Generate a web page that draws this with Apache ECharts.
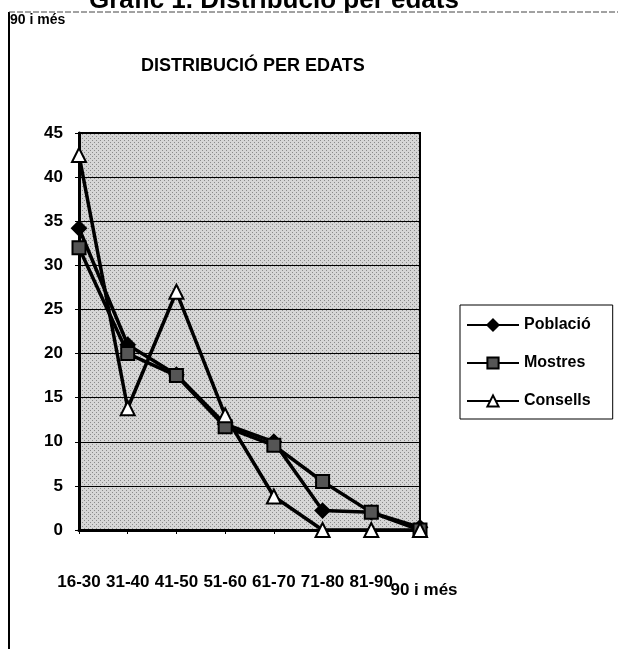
<!DOCTYPE html>
<html>
<head>
<meta charset="utf-8">
<script src="https://cdn.jsdelivr.net/npm/echarts@6/dist/echarts.min.js"></script>
<style>
html, body { margin: 0; padding: 0; background: #fff; }
#chart { width: 618px; height: 649px; }
</style>
</head>
<body>
<div id="chart"></div>
<script>
// dades llegides del gràfic
var edats = ['16-30', '31-40', '41-50', '51-60', '61-70', '71-80', '81-90', '90 i més'];
var poblacio = [34.2, 21, 17.6, 12, 10, 2.2, 2, 0.3];
var mostres = [32, 20, 17.5, 11.7, 9.6, 5.5, 2, 0];
var consells = [42.5, 13.8, 27, 13, 3.8, 0, 0, 0];
var yTicks = [0, 5, 10, 15, 20, 25, 30, 35, 40, 45];

var chart = echarts.init(document.getElementById('chart'));

var font = 'Liberation Sans, Arial, sans-serif';

// trama puntejada del fons
var trama = document.createElement('canvas');
trama.width = 4;
trama.height = 4;
var ctx = trama.getContext('2d');
ctx.fillStyle = '#d6d6d6';
ctx.fillRect(0, 0, 4, 4);
ctx.fillStyle = '#8a8a8a';
ctx.fillRect(0, 0, 1, 1);
ctx.fillRect(2, 2, 1, 1);

function serie(name, data, symbol, size, fill) {
	return {
		name: name,
		type: 'line',
		data: data,
		symbol: symbol,
		symbolSize: size,
		showAllSymbol: true,
		lineStyle: { color: '#000', width: 3.5 },
		itemStyle: { color: fill, borderColor: '#000', borderWidth: 2 },
		emphasis: { disabled: true },
		animation: false
	};
}

var option = {
	backgroundColor: '#fff',
	textStyle: { fontFamily: font },
	graphic: [
		{ type: 'text', left: 89, top: -12, style: { text: 'Gràfic 1. Distribució per edats', font: 'bold 26px ' + font, fill: '#000' } },
		{ type: 'line', shape: { x1: 9, y1: 12, x2: 9, y2: 649 }, style: { stroke: '#000', lineWidth: 2 } },
		{ type: 'line', shape: { x1: 9, y1: 12, x2: 618, y2: 12 }, style: { stroke: '#444', lineWidth: 1, lineDash: [6, 2] } },
		{ type: 'text', left: 10, top: 13, style: { text: '90 i més', font: 'bold 14px ' + font, fill: '#000' } }
	],
	title: {
		text: 'DISTRIBUCIÓ PER EDATS',
		left: 136,
		top: 52,
		textStyle: { fontSize: 18, fontWeight: 'bold', color: '#000', fontFamily: font }
	},
	legend: {
		orient: 'vertical',
		left: 460,
		top: 305,
		width: 154,
		padding: [12, 22, 10, 6],
		itemGap: 22,
		itemWidth: 52,
		itemHeight: 14,
		borderColor: '#000',
		borderWidth: 1,
		textStyle: { fontSize: 16, fontWeight: 'bold', color: '#000', fontFamily: font },
		data: ['Població', 'Mostres', 'Consells']
	},
	grid: {
		left: 79,
		right: 198,
		top: 133,
		bottom: 119,
		show: true,
		backgroundColor: { image: trama, repeat: 'repeat' },
		borderColor: '#000',
		borderWidth: 2
	},
	xAxis: {
		type: 'category',
		data: edats,
		boundaryGap: false,
		axisLine: { lineStyle: { color: '#000', width: 3 } },
		axisTick: { show: true, alignWithLabel: true, length: 4, lineStyle: { color: '#000' } },
		axisLabel: {
			interval: 0,
			margin: 44,
			color: '#000',
			fontSize: 17,
			fontWeight: 'bold',
			formatter: function (v, i) {
				return i === edats.length - 1 ? '{b|' + v + '}' : v;
			},
			rich: { b: { fontSize: 17, fontWeight: 'bold', padding: [8, 0, 0, 8], color: '#000' } }
		},
		splitLine: { show: false }
	},
	yAxis: {
		type: 'value',
		min: yTicks[0],
		max: yTicks[yTicks.length - 1],
		interval: 5,
		axisLine: { show: true, lineStyle: { color: '#000', width: 3 } },
		axisTick: { show: true, length: 4, lineStyle: { color: '#000' } },
		axisLabel: { color: '#000', fontSize: 17, fontWeight: 'bold', margin: 16 },
		splitLine: { show: true, lineStyle: { color: '#000', width: 1 } }
	},
	series: [
		serie('Població', poblacio, 'diamond', 14, '#000'),
		serie('Mostres', mostres, 'rect', 13, '#555'),
		serie('Consells', consells, 'triangle', 14, '#fff')
	]
};

chart.setOption(option);
</script>
</body>
</html>
